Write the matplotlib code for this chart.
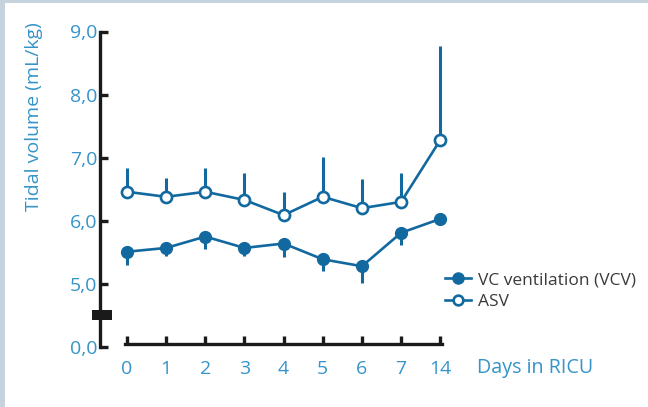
import matplotlib
matplotlib.use("Agg")
import matplotlib.pyplot as plt
from matplotlib.patches import Rectangle
from matplotlib.lines import Line2D

plt.rcParams['font.family'] = ['Open Sans', 'DejaVu Sans']

# days in RICU (categorical positions)
days = ["0", "1", "2", "3", "4", "5", "6", "7", "14"]

# tidal volume, mL/kg (mean and one-sided SD)
vcv = [5.51, 5.57, 5.75, 5.57, 5.64, 5.39, 5.28, 5.81, 6.03]
vcv_sd = [0.21, 0.13, 0.20, 0.13, 0.21, 0.18, 0.26, 0.20, 0.0]
asv = [6.46, 6.38, 6.46, 6.33, 6.09, 6.38, 6.20, 6.30, 7.28]
asv_sd = [0.37, 0.30, 0.37, 0.43, 0.36, 0.63, 0.46, 0.46, 1.49]

# broken y axis: the lowest tick stands in for zero
ytick_pos = [4, 5, 6, 7, 8, 9]
ytick_labels = ["0,0", "5,0", "6,0", "7,0", "8,0", "9,0"]

blue = "#12699f"
label_blue = "#3594c9"
W, H = 648, 407

fig = plt.figure(figsize=(W / 100, H / 100), dpi=100)
fig.patch.set_facecolor("#c6d3dc")
fig.patches.append(Rectangle((5 / W, 0), 1, (H - 3) / H, transform=fig.transFigure,
                             facecolor="white", edgecolor="none", zorder=-10))

ax = fig.add_axes([100 / W, (H - 347) / H, (452 - 100) / W, (347 - 31.5) / H])
ax.set_facecolor("none")
x = list(range(len(days)))

zero = [0] * len(days)
ax.errorbar(x, asv, yerr=[zero, asv_sd], fmt="none", ecolor=blue, elinewidth=2.2,
            capsize=0, zorder=2, clip_on=False)
ax.errorbar(x, vcv, yerr=[vcv_sd, zero], fmt="none", ecolor=blue, elinewidth=2.2,
            capsize=0, zorder=2, clip_on=False)
ax.plot(x, asv, color=blue, lw=1.9, marker="o", ms=8, mfc="white", mec=blue, mew=1.9,
        zorder=3, clip_on=False)
ax.plot(x, vcv, color=blue, lw=1.9, marker="o", ms=8.5, mfc=blue, mec=blue,
        zorder=3, clip_on=False)

ax.set_xlim(-0.69, 8.3)
ax.set_ylim(4, 9)
ax.set_xticks(x)
ax.set_xticklabels(days)
ax.set_yticks(ytick_pos)
ax.set_yticklabels(ytick_labels)

for s in ["top", "right"]:
    ax.spines[s].set_visible(False)
for s in ["left", "bottom"]:
    ax.spines[s].set_linewidth(2.4)
    ax.spines[s].set_color("#1a1a1a")
ax.spines["bottom"].set_bounds(-0.04, 8.04)
ax.spines["bottom"].set_position(("outward", -2))
ax.tick_params(axis="both", direction="in", length=6, width=2.4, color="#1a1a1a",
               labelcolor=label_blue, labelsize=14)
ax.tick_params(axis="y", pad=2)
ax.tick_params(axis="x", pad=11)

# axis break marker
ax.add_patch(Rectangle((-8 / 352, 4.5 - 0.08), 20 / 352, 0.16,
                       transform=ax.get_yaxis_transform(), facecolor="#1a1a1a",
                       edgecolor="none", clip_on=False, zorder=4))

ax.set_ylabel("Tidal volume (mL/kg)", color=label_blue, fontsize=14)
ax.yaxis.set_label_coords(-57 / 352, (347 - 117) / 315.5)
fig.text(477 / W, 1 - 368 / H, "Days in RICU", color=label_blue, fontsize=14.2,
         va="center", ha="left")

handles = [
    Line2D([], [], color=blue, lw=1.9, marker="o", ms=8, mfc=blue, mec=blue),
    Line2D([], [], color=blue, lw=1.9, marker="o", ms=7, mfc="white", mec=blue, mew=1.9),
]
fig.legend(handles, ["VC ventilation (VCV)", "ASV"], loc="center left",
           bbox_to_anchor=(436 / W, 1 - 291 / H), frameon=False, fontsize=12.5,
           handlelength=1.5, handletextpad=0.4, labelspacing=0.3,
           labelcolor="#3a3a3a", borderpad=0)

fig.savefig("out.png", dpi=100)
